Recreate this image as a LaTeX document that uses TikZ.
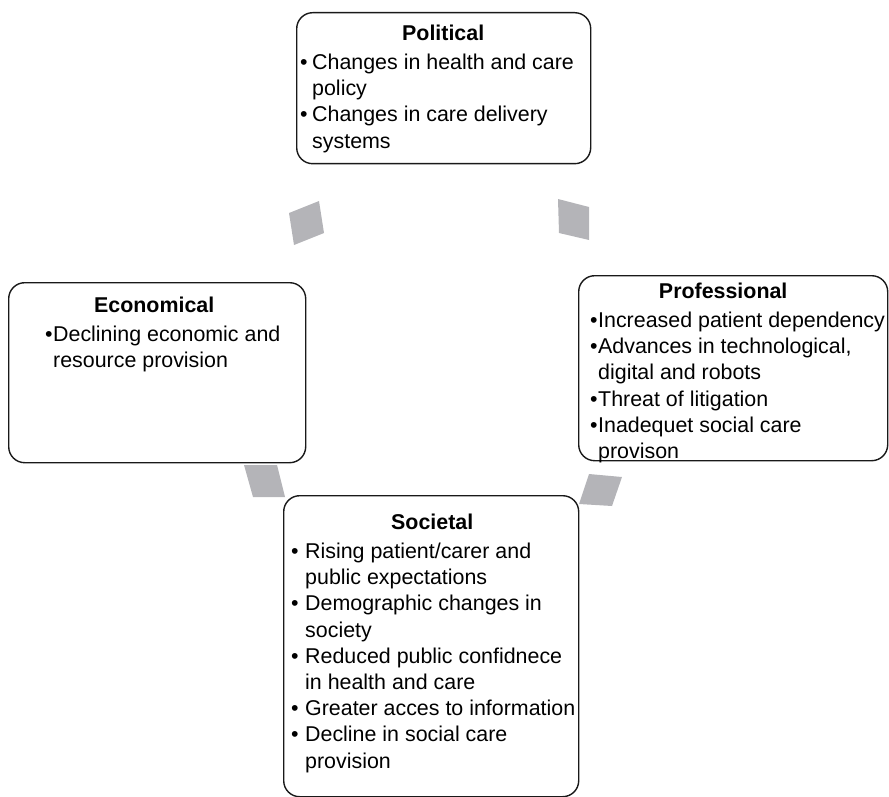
\documentclass[tikz,border=0pt]{standalone}
\usepackage{fontspec}
\setmainfont{Liberation Sans}
\usetikzlibrary{positioning}
\definecolor{arrowgray}{RGB}{180,180,184}
\newcommand{\bul}[2][11]{\makebox[#1pt][l]{\textbullet}#2}
\newcommand{\cont}[2][11]{\hspace*{#1pt}#2}
\tikzset{
  box/.style={draw=black!90, line width=1.4pt, rounded corners=16pt, anchor=north west, inner sep=0pt},
  txt/.style={align=left, anchor=north west, inner sep=0pt, font=\fontsize{21.4}{26.2}\selectfont},
  link/.style={fill=arrowgray}
}
\begin{document}
\begin{tikzpicture}[x=1pt, y=1pt]
  \useasboundingbox (0,0) rectangle (889,-797);

  % gray arrow pieces of the cycle
  \fill[link] (289,-213) -- (319,-201) -- (324,-233) -- (294,-245) -- cycle;
  \fill[link] (558,-199) -- (589,-207) -- (589,-240) -- (559,-233) -- cycle;
  \fill[link] (244,-465) -- (277,-465) -- (285,-497) -- (253,-497) -- cycle;
  \fill[link] (589,-474) -- (622,-477) -- (612,-506) -- (579,-504) -- cycle;

  % boxes
  \node[box, minimum width=294pt, minimum height=151pt] (political) at (296,-12) {};
  \node[box, minimum width=309pt, minimum height=185pt] (professional) at (578,-275) {};
  \node[box, minimum width=297pt, minimum height=180pt] (economical) at (8,-282) {};
  \node[box, minimum width=295pt, minimum height=301pt] (societal) at (283,-495) {};

  % texts
  \node[txt] (politicaltxt) at ([xshift=4pt, yshift=-12.6pt]political.north west)
    {\makebox[286pt]{\bfseries Political}\\[3pt]
     \bul[12]{Changes in health and care}\\ \cont[12]{policy}\\
     \bul[12]{Changes in care delivery}\\ \cont[12]{systems}};
  \node[txt] (professionaltxt) at ([xshift=12pt, yshift=-7.6pt]professional.north west)
    {\makebox[266pt]{\bfseries Professional}\\[3pt]
     \bul[8]{Increased patient dependency}\\
     \bul[8]{Advances in technological,}\\ \cont[8]{digital and robots}\\
     \bul[8]{Threat of litigation}\\
     \bul[8]{Inadequet social care}\\ \cont[8]{provison}};
  \node[txt] (economicaltxt) at ([xshift=37pt, yshift=-14.6pt]economical.north west)
    {\makebox[218pt]{\bfseries Economical}\\[3pt]
     \bul[8]{Declining economic and}\\ \cont[8]{resource provision}};
  \node[txt] (societaltxt) at ([xshift=8pt, yshift=-18.6pt]societal.north west)
    {\makebox[282pt]{\bfseries Societal}\\[3pt]
     \bul[14]{Rising patient/carer and}\\ \cont[14]{public expectations}\\
     \bul[14]{Demographic changes in}\\ \cont[14]{society}\\
     \bul[14]{Reduced public confidnece}\\ \cont[14]{in health and care}\\
     \bul[14]{Greater acces to information}\\
     \bul[14]{Decline in social care}\\ \cont[14]{provision}};

\end{tikzpicture}
\end{document}
